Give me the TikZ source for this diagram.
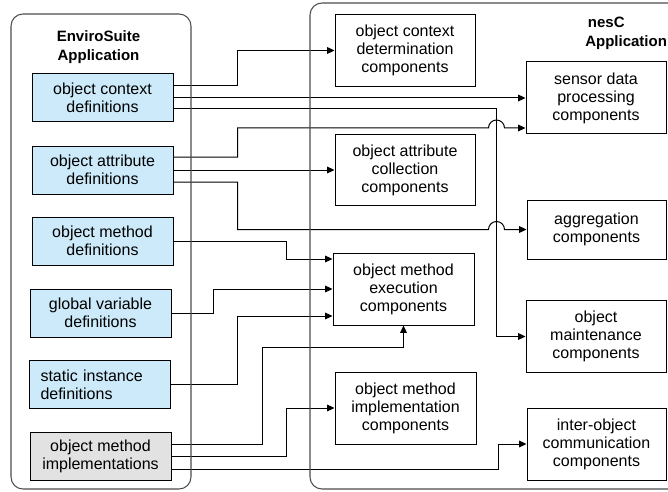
\documentclass[tikz,border=0pt]{standalone}
\usepackage{fontspec}
\setmainfont{Liberation Sans}
\usepackage{tikz}
\usetikzlibrary{arrows.meta,calc}

\definecolor{defblue}{RGB}{204,234,250}
\definecolor{implgray}{RGB}{226,226,226}
\newcommand{\boxfont}{\fontsize{12}{13.5}\selectfont}
\newcommand{\titlefont}{\fontsize{11.25}{14.5}\selectfont\bfseries}

\tikzset{
  defbox/.style={draw, fill=defblue, line width=0.75pt, minimum width=105.75pt, minimum height=36pt, align=center, font=\boxfont, inner sep=1pt},
  compbox/.style={draw, fill=white, line width=0.75pt, minimum width=105pt, minimum height=53.5pt, align=center, font=\boxfont, inner sep=1pt},
  conn/.style={-{Triangle[length=5.5pt,width=5pt]}, line width=0.75pt},
  appframe/.style={draw=black!70, line width=0.8pt, rounded corners=9pt}
}

\begin{document}
\begin{tikzpicture}[x=0.75pt,y=0.75pt,yscale=-1,xscale=1]
\path[use as bounding box] (0,0) rectangle (668,492);
\clip (0,0) rectangle (668,492);

% Text Node
\node (envtitle) at (98.5,47) [font=\titlefont, align=center] {EnviroSuite\\Application};
% Text Node
\node (nesctitle) at (585,33) [anchor=west, inner sep=0pt, font=\titlefont, align=left] {\hspace*{2pt}nesC\\Application};

%Shape: Rectangle
\node (ctxdef) at (102.5,98) [defbox] {object context\\definitions};
\node (attrdef) at (102.5,170) [defbox] {object attribute\\definitions};
\node (methdef) at (102.5,241) [defbox] {object method\\definitions};
\node (globdef) at (100.5,313) [defbox] {global variable\\definitions};
\node (statdef) at (99.5,384.5) [defbox, align=left, text width=88.5pt, inner xsep=8.25pt] {static instance\\definitions};
\node (methimp) at (100.5,456) [defbox, fill=implgray] {object method\\implementations};

%Shape: Rectangle
\node (ctxdet) at (405,50.5) [compbox] {object context\\determination\\components};
\node (attrcol) at (405,170) [compbox] {object attribute\\collection\\components};
\node (methexec) at (403.5,289) [compbox, minimum width=105.75pt, minimum height=54pt] {object method\\execution\\components};
\node (methcomp) at (405.5,408) [compbox, minimum width=105.75pt, minimum height=54pt] {object method\\implementation\\components};

%Shape: Rectangle
\node (sensor) at (596,98) [compbox, minimum height=54pt] {sensor data\\processing\\components};
\node (aggr) at (596.5,229.5) [compbox, minimum width=104.25pt, minimum height=44.25pt] {aggregation\\components};
\node (maint) at (596,336.5) [compbox] {object\\maintenance\\components};
\node (comm) at (596.5,444) [compbox, minimum width=104.25pt, minimum height=54pt] {inter-object\\communication\\components};

%Straight Lines
\draw[conn] ($(ctxdef.east)+(0,-12)$) -| ($(ctxdet.west)+(-97,0)$) -- (ctxdet.west);
\draw[conn] (ctxdef.east) -- (sensor.west);
\draw[conn] ($(ctxdef.east)+(0,11)$) -| ($(maint.west)+(-29,0)$) -- (maint.west);
%Straight Lines
\draw[conn] ($(attrdef.east)+(0,-13)$) -| ($(sensor.west)+(-288,30)$) -- ($(sensor.west)+(-37,30)$) arc[start angle=180, end angle=360, radius=8] -- ($(sensor.west)+(0,30)$);
\draw[conn] (attrdef.east) -- (attrcol.west);
\draw[conn] ($(attrdef.east)+(0,12)$) -| ($(aggr.west)+(-289,0)$) -- ($(aggr.west)+(-38,0)$) arc[start angle=180, end angle=360, radius=8] -- (aggr.west);
%Straight Lines
\draw[conn] (methdef.east) -| ($(methexec.west)+(-46,-30)$) -- ($(methexec.west)+(0,-30)$);
\draw[conn] (globdef.east) -| ($(methexec.west)+(-119,0)$) -- (methexec.west);
\draw[conn] (statdef.east) -| ($(methexec.west)+(-95,27)$) -- ($(methexec.west)+(0,27)$);
%Straight Lines
\draw[conn] ($(methimp.east)+(0,-12)$) -| ($(methexec.south)+(-141.5,22)$) -| (methexec.south);
\draw[conn] (methimp.east) -| ($(methcomp.west)+(-48,0)$) -- (methcomp.west);
\draw[conn] ($(methimp.east)+(0,13)$) -| ($(comm.west)+(-28,0)$) -- (comm.west);

%Shape: Rounded Rect
\draw[appframe] (11,14) rectangle (191,489);
%Shape: Rounded Rect
\draw[appframe] (310,3) rectangle (700,489);
\end{tikzpicture}
\end{document}
